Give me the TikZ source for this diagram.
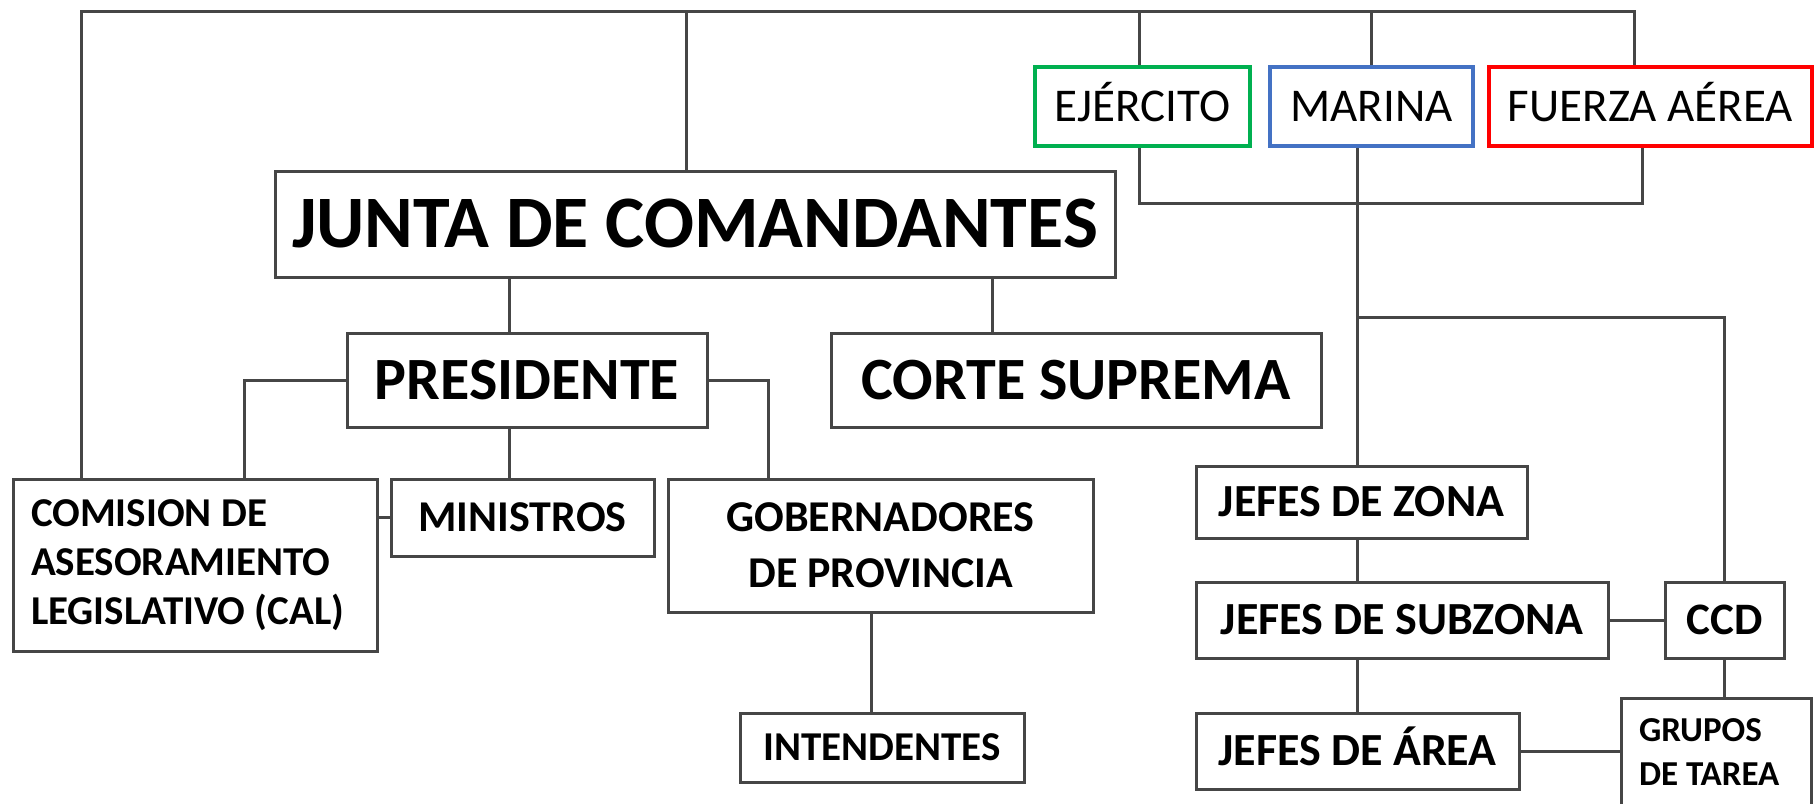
\documentclass[tikz,border=0pt]{standalone}
\usepackage{fontspec}
\setmainfont{Carlito}
\definecolor{ejgreen}{RGB}{0,176,80}
\definecolor{marblue}{RGB}{68,114,196}
\definecolor{farred}{RGB}{255,0,0}
\definecolor{linegray}{RGB}{70,70,70}

\begin{document}
\begin{tikzpicture}[x=1pt,y=-1pt]
  \tikzstyle{box}=[rectangle,draw=linegray,line width=3pt,fill=white,inner sep=0pt]
  \tikzstyle{arm}=[rectangle,line width=4.5pt,fill=white,inner sep=0pt,text height=30pt,text depth=0pt,
        minimum height=79pt,font=\fontsize{47pt}{56pt}\selectfont]
  \tikzstyle{link}=[draw=linegray,line width=3pt]
  \useasboundingbox (0,0) rectangle (1817,803);
    % government side
    \node [box,minimum width=840pt,minimum height=106pt,font=\fontsize{74pt}{88pt}\selectfont\bfseries] (junta) at (695,224) {JUNTA DE COMANDANTES};
    \node [box,minimum width=360pt,minimum height=94pt,font=\fontsize{60pt}{72pt}\selectfont\bfseries] (pres) at (527,380) {PRESIDENTE};
    \node [box,minimum width=490pt,minimum height=94pt,font=\fontsize{60pt}{72pt}\selectfont\bfseries] (corte) at (1076,380) {CORTE SUPREMA};
    \node [box,minimum width=364pt,minimum height=172pt,text width=328pt,align=flush left,font=\fontsize{41pt}{49pt}\selectfont\bfseries] (cal) at (195,565) {COMISION DE\\ASESORAMIENTO\\LEGISLATIVO (CAL)};
    \node [box,minimum width=263pt,minimum height=77pt,font=\fontsize{44pt}{52pt}\selectfont\bfseries] (min) at (522.5,517.5) {MINISTROS};
    \node [box,minimum width=425pt,minimum height=133pt,align=center,font=\fontsize{44pt}{56pt}\selectfont\bfseries] (gob) at (880.5,545.5) {GOBERNADORES\\DE PROVINCIA};
    \node [box,minimum width=284pt,minimum height=69pt,font=\fontsize{41pt}{49pt}\selectfont\bfseries] (intend) at (882,747.5) {INTENDENTES};
    % armed forces
    \node [arm,draw=ejgreen,minimum width=215pt] (ejer) at (1142.5,106.5) {EJÉRCITO};
    \node [arm,draw=marblue,minimum width=203pt] (marina) at (1371.5,106.5) {MARINA};
    \node [arm,draw=farred,minimum width=323pt] (fuerza) at (1650.5,106.5) {FUERZA AÉREA};
    % repression chain
    \node [box,minimum width=331pt,minimum height=72pt,font=\fontsize{46pt}{55pt}\selectfont\bfseries] (zona) at (1361.5,502) {JEFES DE ZONA};
    \node [box,minimum width=412pt,minimum height=76pt,font=\fontsize{46pt}{55pt}\selectfont\bfseries] (subzona) at (1402,620) {JEFES DE SUBZONA};
    \node [box,minimum width=119pt,minimum height=76pt,font=\fontsize{45pt}{54pt}\selectfont\bfseries] (ccd) at (1724.5,620) {CCD};
    \node [box,minimum width=323pt,minimum height=76pt,text height=29pt,text depth=0pt,font=\fontsize{46pt}{55pt}\selectfont\bfseries] (area) at (1357.5,751) {JEFES DE ÁREA};
    \node [box,minimum width=190pt,minimum height=108pt,text width=154pt,align=flush left,font=\fontsize{35pt}{44pt}\selectfont\bfseries] (grupos) at (1716,752) {GRUPOS\\DE TAREA};

    \coordinate (bus) at (0,11);
    \coordinate (px) at (509,0);
    \coordinate (cx) at (992,0);
    \coordinate (mx) at (1357,0);
    \coordinate (fork) at (1357,317);

    \draw [link] ([xshift=70pt]cal.north west) |- ([xshift=-16pt]fuerza.north |- bus) -- ([xshift=-16pt]fuerza.north);
    \draw [link] ([xshift=-9pt]junta.north) -- ([xshift=-9pt]junta.north |- bus);
    \draw [link] ([xshift=-3pt]ejer.north) -- ([xshift=-3pt]ejer.north |- bus);
    \draw [link] (marina.north) -- (marina.north |- bus);
    \draw [link] ([xshift=-3pt]ejer.south) -- ++(0,55) -| ([xshift=-8pt]fuerza.south);

    \draw [link] (px |- junta.south) -- (px |- pres.north);
    \draw [link] (cx |- junta.south) -- (cx |- corte.north);
    \draw [link] (px |- pres.south) -- (px |- min.north);
    \draw [link] (pres.west) -| ([xshift=233pt]cal.north west);
    \draw [link] (pres.east) -| ([xshift=102pt]gob.north west);
    \draw [link] (min.west) -- (min.west -| cal.east);
    \draw [link] ([xshift=-9pt]gob.south) -- ([xshift=-9pt]gob.south |- intend.north);

    \draw [link] (mx |- marina.south) -- (mx |- zona.north);
    \draw [link] (mx |- zona.south) -- (mx |- subzona.north);
    \draw [link] (mx |- subzona.south) -- (mx |- area.north);
    \draw [link] (fork) -| (ccd.north);
    \draw [link] (subzona.east) -- (ccd.west);
    \draw [link] (ccd.south) -- (ccd.south |- grupos.north);
    \draw [link] (area.east) -- (area.east -| grupos.west);
\end{tikzpicture}
\end{document}
